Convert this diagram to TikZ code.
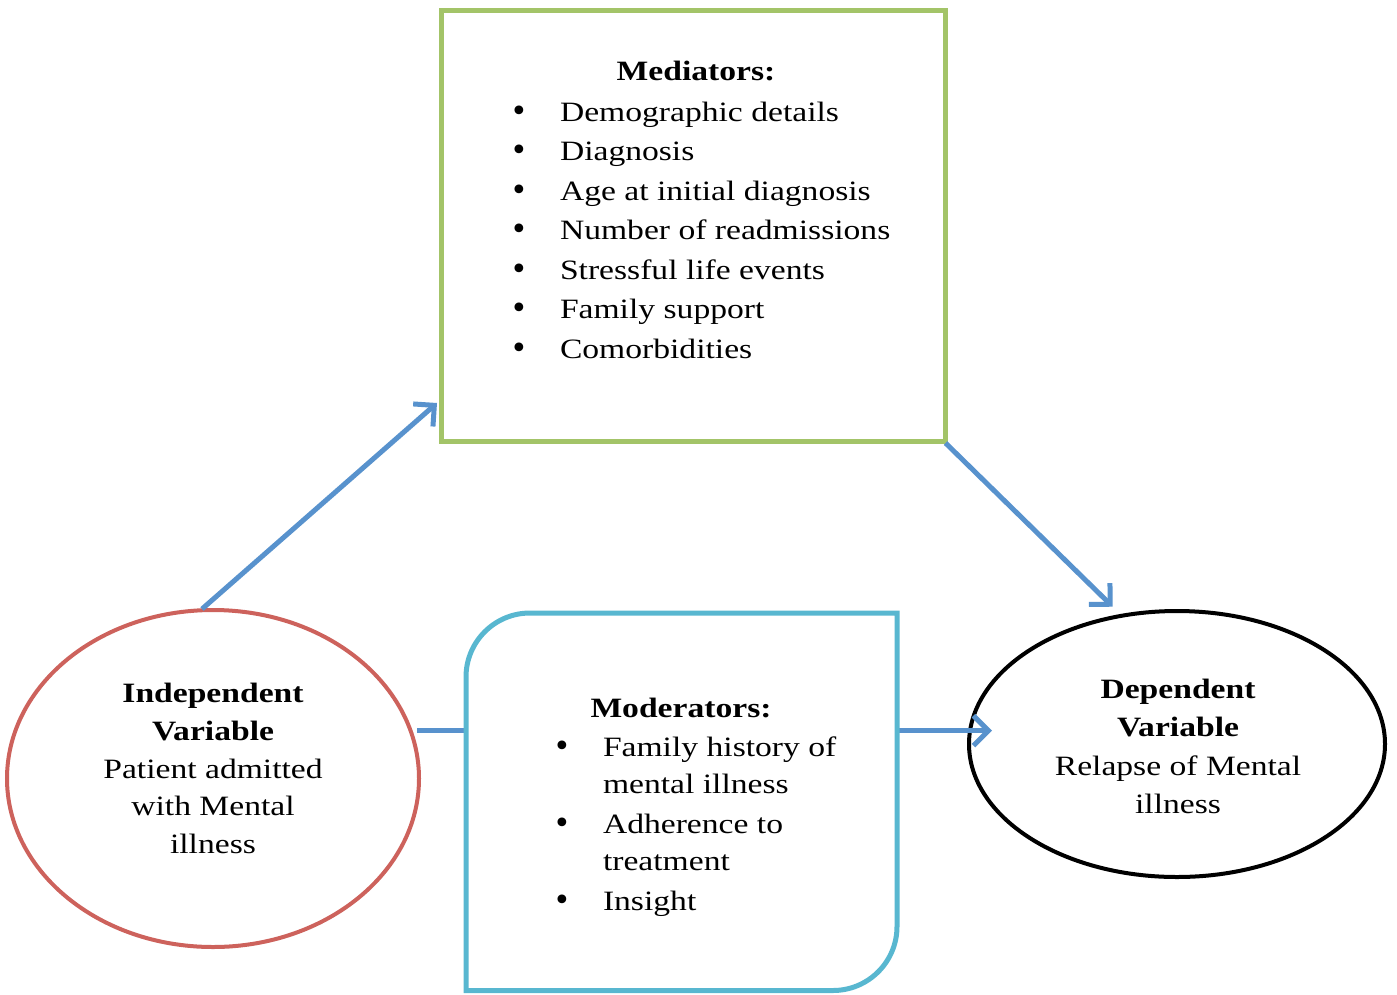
\documentclass[tikz,border=0pt]{standalone}
\usepackage{fontspec}
\setmainfont{Liberation Serif}[FakeStretch=1.2]
\newfontfamily\bulletfont{DejaVu Sans}
\usetikzlibrary{shapes.geometric,arrows.meta}
\definecolor{medgreen}{RGB}{163,196,104}
\definecolor{modcyan}{RGB}{88,183,208}
\definecolor{indred}{RGB}{205,98,92}
\definecolor{arrblue}{RGB}{88,146,205}
\newcommand{\bigbul}{{\bulletfont\fontsize{30}{39.5}\selectfont •}}
\begin{document}
\begin{tikzpicture}[x=1pt,y=-1pt,
  txt/.style={inner sep=0pt, outer sep=0pt, anchor=base, font=\fontsize{28}{39.5}\selectfont},
  ltxt/.style={txt, anchor=base west},
  btxt/.style={txt, font=\fontsize{28}{39.5}\selectfont\bfseries},
  bul/.style={txt},
  ellipsebox/.style={ellipse, inner sep=0pt, outer sep=0pt, line width=4pt, fill=white},
  arr/.style={draw=arrblue, line width=5pt, -{Straight Barb[length=15pt,width=30pt]}}]
\useasboundingbox (0,0) rectangle (1397,994);

% Mediators box
\node[draw=medgreen, line width=5pt, inner sep=0pt, outer sep=0pt,
      minimum width=504pt, minimum height=431.5pt] (med) at (693.5,225.75) {};
\node[btxt] (medtitle) at (696,80.5) {Mediators:};
\foreach \i/\b/\t in {1/121/Demographic details, 2/160.5/Diagnosis, 3/200/Age at initial diagnosis,
  4/239.5/Number of readmissions, 5/279/Stressful life events, 6/318.5/Family support, 7/358/Comorbidities}{
  \node[bul] (medb\i) at (519,\b) {\bigbul};
  \node[ltxt] (medt\i) at (560,\b) {\t};
}

% Ellipses
\node[ellipsebox, draw=indred, minimum width=412pt, minimum height=337pt] (ind) at (213,778.5) {};
\node[ellipsebox, draw=black, minimum width=416pt, minimum height=266pt] (dep) at (1177,744) {};

% Arrows
\draw[arr] ([shift={(-11,-1)}]ind.north) -- ([shift={(-4.5,-38.5)}]med.south west);
\draw[arr] ([shift={(0,1.5)}]med.south east) -- ([shift={(-64.3,-4.3)}]dep.north);
\draw[arr] ([shift={(204,-47.8)}]ind.center) -- ([shift={(-185,-13.3)}]dep.center);

% Moderators box
\node[inner sep=0pt, outer sep=0pt, minimum width=431pt, minimum height=377.5pt] (mod) at (681.5,801.75) {};
\draw[draw=modcyan, line width=5pt, fill=white]
  (mod.south west) -- ([shift={(0,64)}]mod.north west)
  .. controls ([shift={(0,28.65)}]mod.north west) and ([shift={(28.65,0)}]mod.north west) ..
  ([shift={(64,0)}]mod.north west) -- (mod.north east) -- ([shift={(0,-64)}]mod.south east)
  .. controls ([shift={(0,-28.65)}]mod.south east) and ([shift={(-28.65,0)}]mod.south east) ..
  ([shift={(-64,0)}]mod.south east) -- cycle;
\node[btxt] (modtitle) at (681,717) {Moderators:};
\node[bul] (modb1) at (562,756) {\bigbul};
\node[ltxt] (modt1) at (603,756) {Family history of};
\node[ltxt] (modt1b) at (603,793) {mental illness};
\node[bul] (modb2) at (562,833) {\bigbul};
\node[ltxt] (modt2) at (603,833) {Adherence to};
\node[ltxt] (modt2b) at (603,870) {treatment};
\node[bul] (modb3) at (562,910) {\bigbul};
\node[ltxt] (modt3) at (603,910) {Insight};

% Ellipse texts
\node[btxt] (ind1) at (213,702) {Independent};
\node[btxt] (ind2) at (213,740) {Variable};
\node[txt] (ind3) at (213,778) {Patient admitted};
\node[txt] (ind4) at (213,815) {with Mental};
\node[txt] (ind5) at (213,853) {illness};

\node[btxt] (dep1) at (1178,698) {Dependent};
\node[btxt] (dep2) at (1178,736.5) {Variable};
\node[txt] (dep3) at (1178,775) {Relapse of Mental};
\node[txt] (dep4) at (1178,813) {illness};
\end{tikzpicture}
\end{document}
